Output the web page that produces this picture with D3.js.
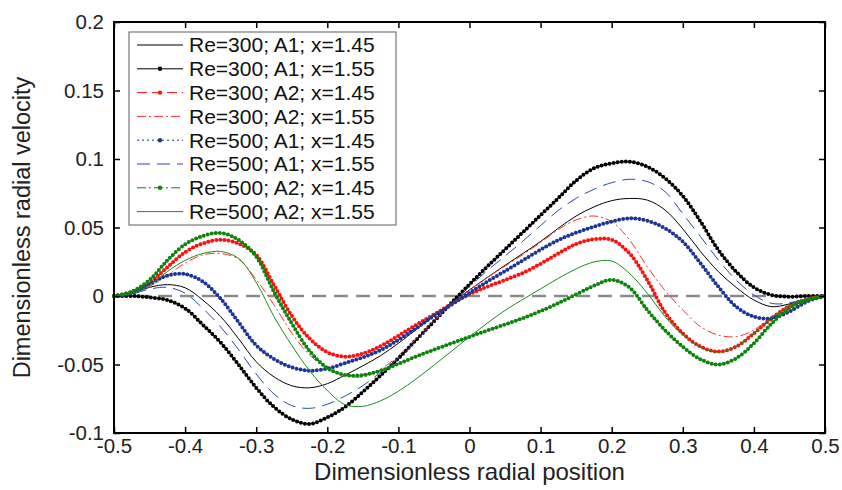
<!DOCTYPE html>
<html>
<head>
<meta charset="utf-8">
<script src="https://cdn.jsdelivr.net/npm/d3@7"></script>
<style>
  body { margin: 0; background: #fff; }
  text { font-family: "Liberation Sans", Arial, Helvetica, sans-serif; }
</style>
</head>
<body>
<div id="main"></div>
<script>
const ctx = {
    w: 842,
    h: 490,
    left: 114,
    right: 825,
    top: 22,
    bottom: 433,
};

// radial positions (shared by every series)
const radialPos = [-0.5, -0.475, -0.45, -0.425, -0.4, -0.375, -0.35, -0.325, -0.3, -0.275,
    -0.25, -0.225, -0.2, -0.175, -0.15, -0.125, -0.1, -0.075, -0.05, -0.025,
    0, 0.025, 0.05, 0.075, 0.1, 0.125, 0.15, 0.175, 0.2, 0.225,
    0.25, 0.275, 0.3, 0.325, 0.35, 0.375, 0.4, 0.425, 0.45, 0.475, 0.5];

// series values
const re300A1x145 = [0, 0.002, 0.0063, 0.0083, 0.006, -0.003, -0.015, -0.031, -0.048, -0.059,
    -0.0655, -0.067, -0.064, -0.0577, -0.051, -0.0435, -0.0345, -0.0245, -0.0145, -0.0048,
    0.0044, 0.0135, 0.0224, 0.031, 0.0398, 0.0495, 0.0584, 0.065, 0.0696, 0.0712,
    0.07, 0.0628, 0.049, 0.0324, 0.0178, 0.0063, -0.0029, -0.0078, -0.0058, -0.0029, 0];
const re300A1x155 = [0, 0, -0.001, -0.003, -0.009, -0.021, -0.034, -0.05, -0.067, -0.081,
    -0.09, -0.0934, -0.0886, -0.081, -0.07, -0.058, -0.0455, -0.032, -0.0185, -0.0048,
    0.0085, 0.0215, 0.034, 0.0465, 0.059, 0.0715, 0.0842, 0.0932, 0.0968, 0.098,
    0.0944, 0.086, 0.073, 0.0543, 0.0336, 0.0178, 0.0063, 0.0007, -0.0005, 0, 0];
const re300A2x145 = [0, 0.003, 0.0097, 0.021, 0.032, 0.0384, 0.041, 0.0384, 0.03, 0.008,
    -0.0145, -0.031, -0.041, -0.0443, -0.042, -0.0365, -0.029, -0.021, -0.0135, -0.0058,
    0.0012, 0.0068, 0.0117, 0.0168, 0.0235, 0.0311, 0.038, 0.0414, 0.041, 0.0311,
    0.0117, -0.012, -0.0273, -0.037, -0.0406, -0.037, -0.0273, -0.0163, -0.0073, -0.0024, 0];
const re300A2x155 = [0, 0.002, 0.007, 0.015, 0.024, 0.03, 0.031, 0.027, 0.012, -0.0065,
    -0.027, -0.043, -0.053, -0.058, -0.059, -0.0535, -0.0435, -0.031, -0.018, -0.0062,
    0.0044, 0.0135, 0.0218, 0.0302, 0.039, 0.0485, 0.0555, 0.0584, 0.0543, 0.041,
    0.0214, 0.004, -0.0102, -0.0224, -0.0285, -0.0297, -0.0248, -0.0151, -0.0073, -0.0024, 0];
const re500A1x145 = [0, 0.002, 0.0088, 0.0148, 0.016, 0.0105, -0.002, -0.019, -0.036, -0.046,
    -0.052, -0.0545, -0.053, -0.049, -0.0448, -0.0395, -0.032, -0.0235, -0.0145, -0.0062,
    0.0022, 0.0105, 0.0182, 0.026, 0.0338, 0.0409, 0.0462, 0.0506, 0.0543, 0.0567,
    0.055, 0.0494, 0.0397, 0.0238, 0.0068, -0.0078, -0.0151, -0.0163, -0.0114, -0.004, 0];
const re500A1x155 = [0, 0.0015, 0.005, 0.0063, 0.002, -0.009, -0.0226, -0.039, -0.057, -0.0715,
    -0.08, -0.082, -0.079, -0.073, -0.0655, -0.0557, -0.0455, -0.033, -0.019, -0.0055,
    0.0068, 0.0185, 0.0292, 0.04, 0.0515, 0.0625, 0.0713, 0.0779, 0.0827, 0.0852,
    0.0835, 0.0762, 0.06, 0.0433, 0.0263, 0.0117, 0.0007, -0.0054, -0.005, -0.0017, 0];
const re500A2x145 = [0, 0.0032, 0.0117, 0.026, 0.0377, 0.0438, 0.046, 0.041, 0.0287, 0.003,
    -0.02, -0.04, -0.0526, -0.0577, -0.0577, -0.0545, -0.0495, -0.0442, -0.0392, -0.0345,
    -0.0298, -0.0252, -0.0208, -0.0162, -0.011, -0.0052, 0.0012, 0.0075, 0.0118, 0.0062,
    -0.0102, -0.025, -0.037, -0.0462, -0.05, -0.0455, -0.0345, -0.02, -0.009, -0.0029, 0];
const re500A2x155 = [0, 0.002, 0.008, 0.0178, 0.026, 0.031, 0.0325, 0.0275, 0.01, -0.015,
    -0.036, -0.0545, -0.069, -0.0793, -0.0805, -0.0765, -0.0695, -0.0605, -0.0505, -0.0402,
    -0.0297, -0.0198, -0.0105, -0.0025, 0.0052, 0.0129, 0.0198, 0.0248, 0.0255, 0.0165,
    0.002, -0.015, -0.0285, -0.0375, -0.041, -0.037, -0.027, -0.016, -0.0066, -0.002, 0];

const seriesLabels = ["Re=300; A1; x=1.45", "Re=300; A1; x=1.55", "Re=300; A2; x=1.45", "Re=300; A2; x=1.55",
    "Re=500; A1; x=1.45", "Re=500; A1; x=1.55", "Re=500; A2; x=1.45", "Re=500; A2; x=1.55"];
const xTicks = [-0.5, -0.4, -0.3, -0.2, -0.1, 0, 0.1, 0.2, 0.3, 0.4, 0.5];
const yTicks = [-0.1, -0.05, 0, 0.05, 0.1, 0.15, 0.2];

// line styles
const styles = [
    {values: re300A1x145, color: "#000", dash: null, width: 1, dots: false},
    {values: re300A1x155, color: "#000", dash: null, width: 1, dots: true},
    {values: re300A2x145, color: "#ff1010", dash: "10,5", width: 1, dots: true},
    {values: re300A2x155, color: "#ff3030", dash: "9,3,2,3", width: 1, dots: false},
    {values: re500A1x145, color: "#1c3596", dash: "2,3", width: 1, dots: true},
    {values: re500A1x155, color: "#2a48b0", dash: "13,7", width: 1, dots: false},
    {values: re500A2x145, color: "#0a840a", dash: "9,3,2,3", width: 1, dots: true},
    {values: re500A2x155, color: "#1a8c1a", dash: null, width: 1, dots: false},
];

function createChart(svg) {
    const x = d3.scaleLinear().domain([-0.5, 0.5]).range([ctx.left, ctx.right]);
    const y = d3.scaleLinear().domain([-0.1, 0.2]).range([ctx.bottom, ctx.top]);

    // zero reference line
    svg.append("line")
        .attr("x1", x(-0.5)).attr("x2", x(0.5))
        .attr("y1", y(0)).attr("y2", y(0))
        .style("stroke", "#8a8a8a")
        .style("stroke-width", 2.5)
        .style("stroke-dasharray", "14,8");

    const line = d3.line()
        .x((d, i) => x(radialPos[i]))
        .y(d => y(d))
        .curve(d3.curveCatmullRom);

    styles.forEach(s => {
        svg.append("path")
            .attr("d", line(s.values))
            .style("fill", "none")
            .style("stroke", s.color)
            .style("stroke-width", s.width)
            .style("stroke-dasharray", s.dash);
        if (s.dots) {
            svg.append("path")
                .attr("d", line(s.values))
                .style("fill", "none")
                .style("stroke", s.color)
                .style("stroke-width", 4)
                .style("stroke-linecap", "round")
                .style("stroke-dasharray", "0,4.1");
        }
    });

    // axes, ticks pointing inward on all four sides
    const fmt = d => String(d);
    svg.append("g")
        .attr("transform", `translate(0,${ctx.bottom})`)
        .call(d3.axisBottom(x).tickValues(xTicks).tickSize(-6).tickPadding(5).tickFormat(fmt))
        .call(g => g.select(".domain").remove());
    svg.append("g")
        .attr("transform", `translate(0,${ctx.top})`)
        .call(d3.axisTop(x).tickValues(xTicks).tickSize(-6).tickFormat(""))
        .call(g => g.select(".domain").remove());
    svg.append("g")
        .attr("transform", `translate(${ctx.left},0)`)
        .call(d3.axisLeft(y).tickValues(yTicks).tickSize(-6).tickPadding(10).tickFormat(fmt))
        .call(g => g.select(".domain").remove());
    svg.append("g")
        .attr("transform", `translate(${ctx.right},0)`)
        .call(d3.axisRight(y).tickValues(yTicks).tickSize(-6).tickFormat(""))
        .call(g => g.select(".domain").remove());

    svg.selectAll(".tick line").style("stroke", "#000").style("stroke-width", 1.5);
    svg.selectAll(".tick text")
        .style("font-size", "20.5px")
        .style("font-family", "'Liberation Sans', Arial, sans-serif")
        .style("fill", "#222");

    svg.append("rect")
        .attr("x", ctx.left).attr("y", ctx.top)
        .attr("width", ctx.right - ctx.left)
        .attr("height", ctx.bottom - ctx.top)
        .style("fill", "none")
        .style("stroke", "#000")
        .style("stroke-width", 2);

    // axis titles
    svg.append("text")
        .attr("x", (ctx.left + ctx.right) / 2)
        .attr("y", 480)
        .attr("text-anchor", "middle")
        .style("font-size", "24px")
        .style("fill", "#222")
        .text("Dimensionless radial position");
    svg.append("text")
        .attr("transform", `translate(30,${(ctx.top + ctx.bottom) / 2}) rotate(-90)`)
        .attr("text-anchor", "middle")
        .style("font-size", "23.5px")
        .style("fill", "#222")
        .text("Dimensionless radial velocity");

    // legend
    const lg = svg.append("g").attr("transform", "translate(129,32)");
    lg.append("rect")
        .attr("width", 267).attr("height", 193)
        .style("fill", "#fff")
        .style("stroke", "#777")
        .style("stroke-width", 1.2);
    styles.forEach((s, i) => {
        const row = lg.append("g").attr("transform", `translate(0,${13 + i * 23.8})`);
        row.append("line")
            .attr("x1", 8).attr("x2", 54)
            .style("stroke", s.color)
            .style("stroke-width", s.width)
            .style("stroke-dasharray", s.dash);
        if (s.dots) {
            row.append("circle").attr("cx", 31).attr("r", 2.2).style("fill", s.color);
        }
        row.append("text")
            .attr("x", 60)
            .attr("dy", "0.35em")
            .style("font-size", "21px")
            .style("fill", "#111")
            .text(seriesLabels[i]);
    });
}

function createViz() {
    let svgEl = d3.select("#main").append("svg");
    svgEl.attr("width", ctx.w);
    svgEl.attr("height", ctx.h);
    createChart(svgEl);
}

createViz();
</script>
</body>
</html>
